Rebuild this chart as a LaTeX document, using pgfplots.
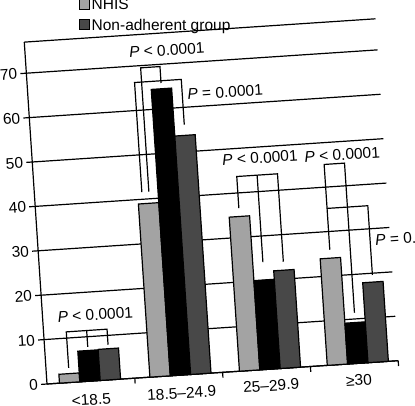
\documentclass[border=0pt]{standalone}
\usepackage{fontspec}
\setmainfont{Liberation Sans}
\usepackage{pgfplots}
\pgfplotsset{compat=1.18}
\definecolor{lightbar}{RGB}{163,163,163}
\definecolor{darkbar}{RGB}{72,72,72}
\newcommand{\F}{\fontsize{15.5}{18}\selectfont}
\begin{document}
\begin{tikzpicture}[font=\F]
\useasboundingbox (-47pt,-21pt) rectangle (368pt,384pt);
\clip (-47pt,-21pt) rectangle (368pt,384pt);
\begin{axis}[
  at={(0pt,0pt)}, anchor=origin,
  x={(87.8pt,5.83pt)}, y={(-0.295pt,4.44pt)},
  xmin=0, xmax=4, ymin=0, ymax=77,
  axis lines=left,
  axis line style={-, line width=1.2pt},
  axis on top=false,
  clip=false,
  /pgf/number format/assume math mode=true,
  ytick={0,10,...,70},
  ymajorgrids,
  grid style={black, line width=1.2pt},
  tick align=outside,
  major tick length=6pt,
  ytick style={black, line width=1.2pt},
  xtick=\empty,
  yticklabel style={font=\F, rotate=3.8, anchor=east, inner sep=3pt},
  legend style={at={(axis cs:0.585,77.6)}, anchor=south west, draw=none, fill=none, font=\F, row sep=4pt, rotate=3.8, nodes={transform shape}},
  legend cell align=left,
  bar/.style={draw=black, line width=1.2pt, forget plot},
]
% top border
\addplot[black, line width=1.2pt, forget plot] coordinates {(0,77) (4,77)};
% x boundary ticks
\addplot[black, line width=1.2pt, forget plot] coordinates {(1,0) (1,-1.2)};
\addplot[black, line width=1.2pt, forget plot] coordinates {(2,0) (2,-1.2)};
\addplot[black, line width=1.2pt, forget plot] coordinates {(3,0) (3,-1.2)};
\addplot[black, line width=1.2pt, forget plot] coordinates {(4,0) (4,-1.2)};
% NHIS bars (light grey): 2, 39, 34.7, 24
\addplot[bar, fill=lightbar] coordinates {(0.142,0) (0.142,2.0) (0.374,2.0) (0.374,0)} -- cycle;
\addplot[bar, fill=lightbar] coordinates {(1.172,0) (1.172,39.0) (1.404,39.0) (1.404,0)} -- cycle;
\addplot[bar, fill=lightbar] coordinates {(2.192,0) (2.192,34.7) (2.424,34.7) (2.424,0)} -- cycle;
\addplot[bar, fill=lightbar] coordinates {(3.192,0) (3.192,24.0) (3.424,24.0) (3.424,0)} -- cycle;
% black bars: 6.9, 64.5, 20.1, 9.2
\addplot[bar, fill=black] coordinates {(0.374,0) (0.374,6.9) (0.606,6.9) (0.606,0)} -- cycle;
\addplot[bar, fill=black] coordinates {(1.404,0) (1.404,64.5) (1.636,64.5) (1.636,0)} -- cycle;
\addplot[bar, fill=black] coordinates {(2.424,0) (2.424,20.1) (2.656,20.1) (2.656,0)} -- cycle;
\addplot[bar, fill=black] coordinates {(3.424,0) (3.424,9.2) (3.656,9.2) (3.656,0)} -- cycle;
% Non-adherent bars (dark grey): 7.0, 53.7, 22, 18
\addplot[bar, fill=darkbar] coordinates {(0.606,0) (0.606,7.0) (0.838,7.0) (0.838,0)} -- cycle;
\addplot[bar, fill=darkbar] coordinates {(1.636,0) (1.636,53.7) (1.868,53.7) (1.868,0)} -- cycle;
\addplot[bar, fill=darkbar] coordinates {(2.656,0) (2.656,22.0) (2.888,22.0) (2.888,0)} -- cycle;
\addplot[bar, fill=darkbar] coordinates {(3.656,0) (3.656,18.0) (3.888,18.0) (3.888,0)} -- cycle;
% legend
\addlegendimage{legend image code/.code={\draw[fill=lightbar, line width=1pt] (0pt,-4.5pt) rectangle (10pt,5.5pt);}}
\addlegendentry{NHIS}
\addlegendimage{legend image code/.code={\draw[fill=darkbar, line width=1pt] (0pt,-4.5pt) rectangle (10pt,5.5pt);}}
\addlegendentry{Non-adherent group}
% brackets
\addplot[black, line width=1.2pt, forget plot] coordinates {(0.258,3.3) (0.258,11.4) (0.722,11.4) (0.722,7.9)};
\addplot[black, line width=1.2pt, forget plot] coordinates {(0.49,7.7) (0.49,11.4)};
\addplot[black, line width=1.2pt, forget plot] coordinates {(1.30,41.6) (1.30,69.5) (1.52,69.5) (1.52,65.8)};
\addplot[black, line width=1.2pt, forget plot] coordinates {(1.22,41.6) (1.22,66.3) (1.752,66.3) (1.752,56.1)};
\addplot[black, line width=1.2pt, forget plot] coordinates {(2.308,36.6) (2.308,43.7) (2.772,43.7) (2.772,23.9)};
\addplot[black, line width=1.2pt, forget plot] coordinates {(2.54,24.1) (2.54,43.7)};
\addplot[black, line width=1.2pt, forget plot] coordinates {(3.308,25.9) (3.308,45.1) (3.54,45.1) (3.54,11.4)};
\addplot[black, line width=1.2pt, forget plot] coordinates {(3.308,35.2) (3.772,35.2) (3.772,19.6)};
% category labels
\node[rotate=3.8] at (axis cs:0.49,-4.2) {<18.5};
\node[rotate=3.8] at (axis cs:1.52,-4.1) {18.5–24.9};
\node[rotate=3.8] at (axis cs:2.54,-3.7) {25–29.9};
\node[rotate=3.8] at (axis cs:3.54,-3.8) {≥30};
% p-values
\node[rotate=3.8] at (axis cs:0.6,14.8) {\textit{P} < 0.0001};
\node[rotate=3.8] at (axis cs:1.61,73.1) {\textit{P} < 0.0001};
\node[rotate=3.8] at (axis cs:2.24,62.8) {\textit{P} = 0.0001};
\node[rotate=3.8] at (axis cs:2.585,47.5) {\textit{P} < 0.0001};
\node[rotate=3.8] at (axis cs:3.52,47.0) {\textit{P} < 0.0001};
\node[rotate=3.8] at (axis cs:4.26,27.3) {\textit{P} = 0.0001};
\end{axis}
\end{tikzpicture}
\end{document}
